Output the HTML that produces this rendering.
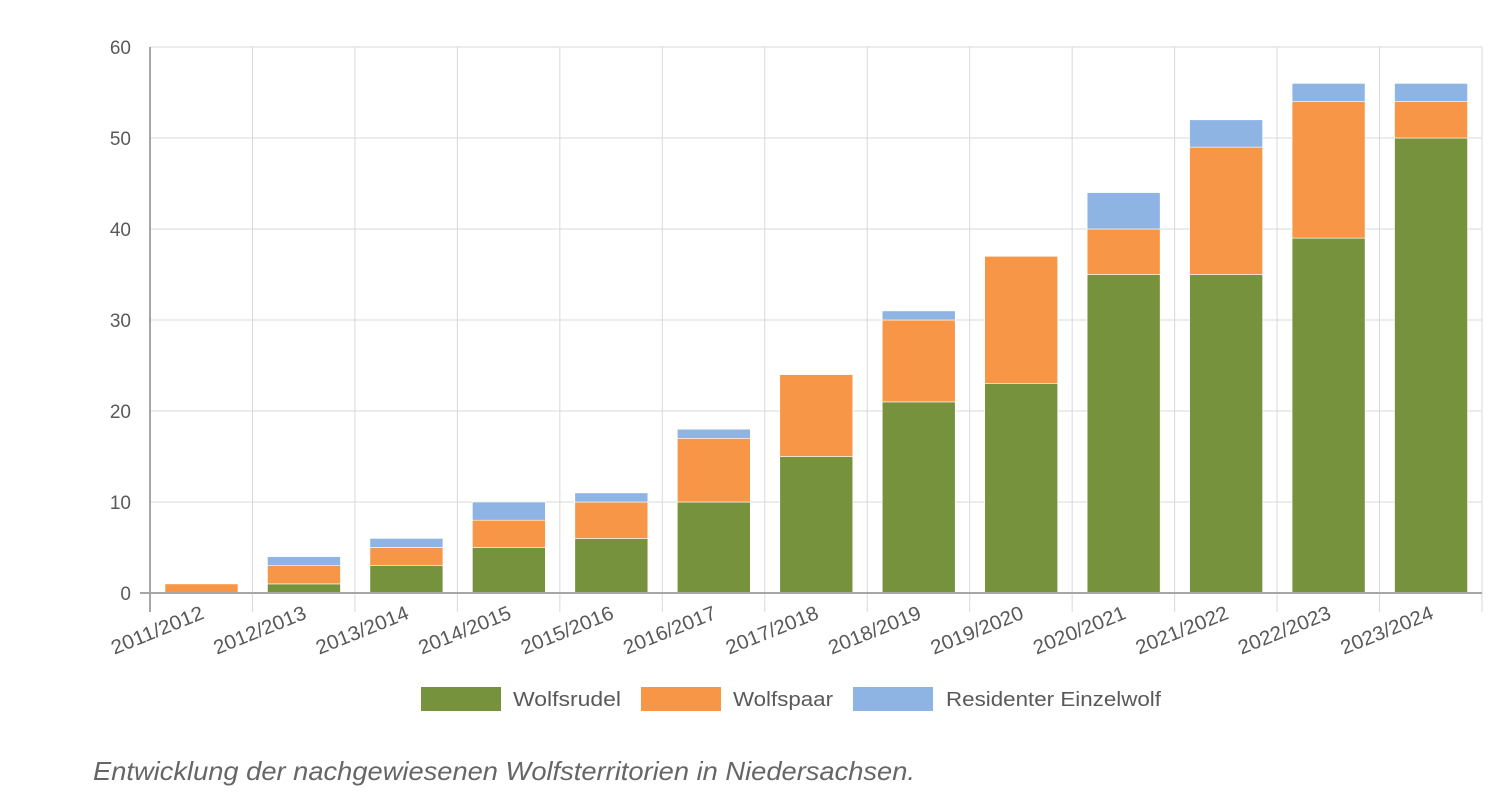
<!DOCTYPE html>
<html><head><meta charset="utf-8"><style>
body{margin:0;background:#fff;width:1501px;height:797px;overflow:hidden}
svg{display:block}
text{font-family:"Liberation Sans",sans-serif;fill:#595959}
</style></head><body>
<svg width="1501" height="797" id="s">
<g id="grid"></g>
<g id="bars"></g>
<g id="labels"></g>
<line x1="150" y1="47" x2="150" y2="612" stroke="#a6a6a6" stroke-width="2"/>
<line x1="140" y1="593" x2="1482" y2="593" stroke="#a6a6a6" stroke-width="2"/>
<rect x="421" y="687" width="80" height="24" fill="#76923c"/>
<text x="513" y="706" font-size="20" textLength="108" lengthAdjust="spacingAndGlyphs">Wolfsrudel</text>
<rect x="641" y="687" width="80" height="24" fill="#f79646"/>
<text x="733" y="706" font-size="20" textLength="100" lengthAdjust="spacingAndGlyphs">Wolfspaar</text>
<rect x="853" y="687" width="80" height="24" fill="#8eb4e3"/>
<text x="946" y="706" font-size="20" textLength="215" lengthAdjust="spacingAndGlyphs">Residenter Einzelwolf</text>
<text x="93" y="780" font-size="26" font-style="italic" fill="#666" textLength="822" lengthAdjust="spacingAndGlyphs" style="fill:#666">Entwicklung der nachgewiesenen Wolfsterritorien in Niedersachsen.</text>
</svg>
<script>
const ns="http://www.w3.org/2000/svg";
function el(p,t,a,txt){const e=document.createElementNS(ns,t);for(const k in a)e.setAttribute(k,a[k]);if(txt!=null)e.textContent=txt;document.getElementById(p).appendChild(e);}
const Y=v=>593-v*9.1;
for(let v=10;v<=60;v+=10)el("grid","line",{x1:150,x2:1482,y1:Y(v),y2:Y(v),stroke:"#d9d9d9","stroke-width":1});
for(let v=0;v<=60;v+=10)el("labels","text",{x:131,y:Y(v)+7,"font-size":19,"text-anchor":"end"},v);
const r=[0,1,3,5,6,10,15,21,23,35,35,39,50],p=[1,2,2,3,4,7,9,9,14,5,14,15,4],e=[0,1,1,2,1,1,0,1,0,4,3,2,2];
const w=(1482-150)/13;
for(let i=0;i<13;i++){
 const b=150+i*w;
 if(i>0)el("grid","line",{x1:b,x2:b,y1:47,y2:612,stroke:"#d9d9d9","stroke-width":1});
 const x=b+15,bw=73;let s=0;
 [[r[i],"#76923c"],[p[i],"#f79646"],[e[i],"#8eb4e3"]].forEach(([v,c])=>{if(v>0){el("bars","rect",{x:x,y:Y(s+v),width:bw,height:v*9.1,fill:c,stroke:"#fff","stroke-width":0.6});}s+=v;});
 const cx=b+w/2+4, ty=618;
 el("labels","text",{x:cx,y:ty,"font-size":20,"text-anchor":"end",textLength:98,lengthAdjust:"spacingAndGlyphs",transform:`rotate(-22 ${cx} ${ty})`},`${2011+i}/${2012+i}`);
}
el("grid","line",{x1:1482,x2:1482,y1:47,y2:612,stroke:"#d9d9d9","stroke-width":1});
</script>
</body></html>
